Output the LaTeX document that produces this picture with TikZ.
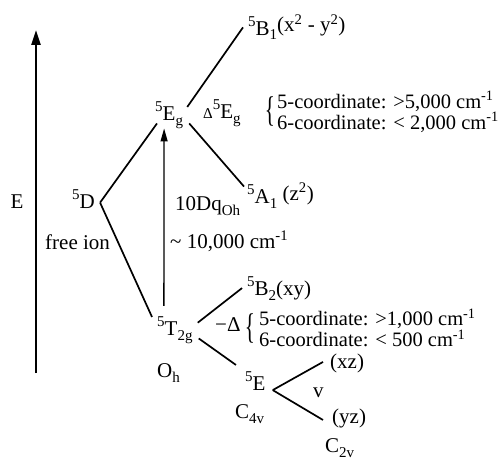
\documentclass[tikz,border=0pt]{standalone}
\usepackage{fontspec}
\setmainfont{Liberation Serif}
\usepackage{graphicx}
\usetikzlibrary{arrows.meta}

\newcommand{\hi}[1]{\raisebox{9pt}{\fontsize{15}{15}\selectfont #1}}
\newcommand{\lo}[1]{\raisebox{-5pt}{\fontsize{15}{15}\selectfont #1}}

\begin{document}
\begin{tikzpicture}[x=1pt, y=-1pt,
  every node/.style={font=\fontsize{21}{24}\selectfont, inner sep=0pt},
  term/.style={anchor=base west},
  split/.style={line width=1.7pt},
  gapnote/.style={anchor=west, align=left, font=\fontsize{20.5}{16}\selectfont}]
  \useasboundingbox (0,0) rectangle (502,460);

  %% Energy axis
  \coordinate (Ebot) at (36,373);
  \coordinate (Etop) at (36,30);
  \draw[-{Triangle[length=15pt,width=9pt]}, line width=2.2pt] (Ebot) -- (Etop);
  \node (Elab) at (17,202) {E};

  %% Terms
  \node[term] (D) at (72,208) {\hi{5}D};
  \node[term] (free) at (45,249) {free ion};
  \node[term] (Eg) at (155,120) {\hi{5}E\lo{g}};
  \node[term] (T2g) at (157,335) {\hi{5}T\lo{2g}};
  \node[term] (Oh) at (157,377) {O\lo{h}};
  \node[term] (B1) at (248,35) {\hi{5}B\lo{1}\raisebox{3pt}{(x\textsuperscript{2} - y\textsuperscript{2})}};
  \node[term] (A1) at (247,203) {\hi{5}A\lo{1} \raisebox{3pt}{(z\textsuperscript{2})}};
  \node[term] (B2) at (247,295) {\hi{5}B\lo{2}(xy)};
  \node[term] (E5) at (245,390) {\hi{5}E};
  \node[term] (C4v) at (235,418) {C\lo{4v}};
  \node[term] (xz) at (330,368) {(xz)};
  \node[term] (yz) at (332,423) {(yz)};
  \node[term] (nu) at (313,397) {v};
  \node[term] (C2v) at (325,452) {C\lo{2v}};

  % 10Dq gap
  \node[term] (Dq) at (175,210) {10Dq\lo{Oh}};
  \node[term] (Dqval) at (170,248) {\textasciitilde{} 10,000 cm\textsuperscript{-1}};

  % splitting of 5Eg
  \node[term] (dEg) at (203,118) {{\fontsize{15}{15}\selectfont Δ}\hi{5}E\lo{g}};
  \node (brA) at (270,112) {\scalebox{1}[1.7]{\{}};
  \node[gapnote] (noteA) at (277,112) {5-coordinate: >5,000 cm\textsuperscript{-1}\\6-coordinate: < 2,000 cm\textsuperscript{-1}};

  % splitting of 5T2g
  \node[term] (mD) at (215,331) {−Δ};
  \node (brB) at (250,328) {\scalebox{1}[1.7]{\{}};
  \node[gapnote] (noteB) at (259,328) {5-coordinate: >1,000 cm\textsuperscript{-1}\\6-coordinate: < 500 cm\textsuperscript{-1}};

  %% Correlation lines
  \draw[split] ([shift={(5,4)}]D.east) -- ([shift={(2,-5)}]Eg.south west);
  \draw[split] ([shift={(5,4)}]D.east) -- ([shift={(-5,1)}]T2g.north west);
  \draw[split] ([shift={(4,6)}]Eg.north east) -- ([shift={(-5,0)}]B1.west);
  \draw[split] ([shift={(6,-5)}]Eg.south east) -- ([shift={(-3,4)}]A1.north west);
  \draw[split] ([shift={(5,-7)}]T2g.east) -- ([shift={(-5,0)}]B2.west);
  \draw[split] ([shift={(6,-5)}]T2g.south east) -- ([shift={(-9,-6)}]E5.north west);
  \draw[split] ([shift={(7,9.5)}]E5.east) -- ([shift={(-7,-1)}]xz.west);
  \draw[split] ([shift={(7,9.5)}]E5.east) -- ([shift={(-9,2)}]yz.west);

  % 10Dq arrow
  \draw[-{Triangle[length=13pt,width=7pt]}, line width=1.3pt]
    ([shift={(-11,-10)}]T2g.north) -- ([shift={(-5,0)}]Eg.south);
\end{tikzpicture}
\end{document}
